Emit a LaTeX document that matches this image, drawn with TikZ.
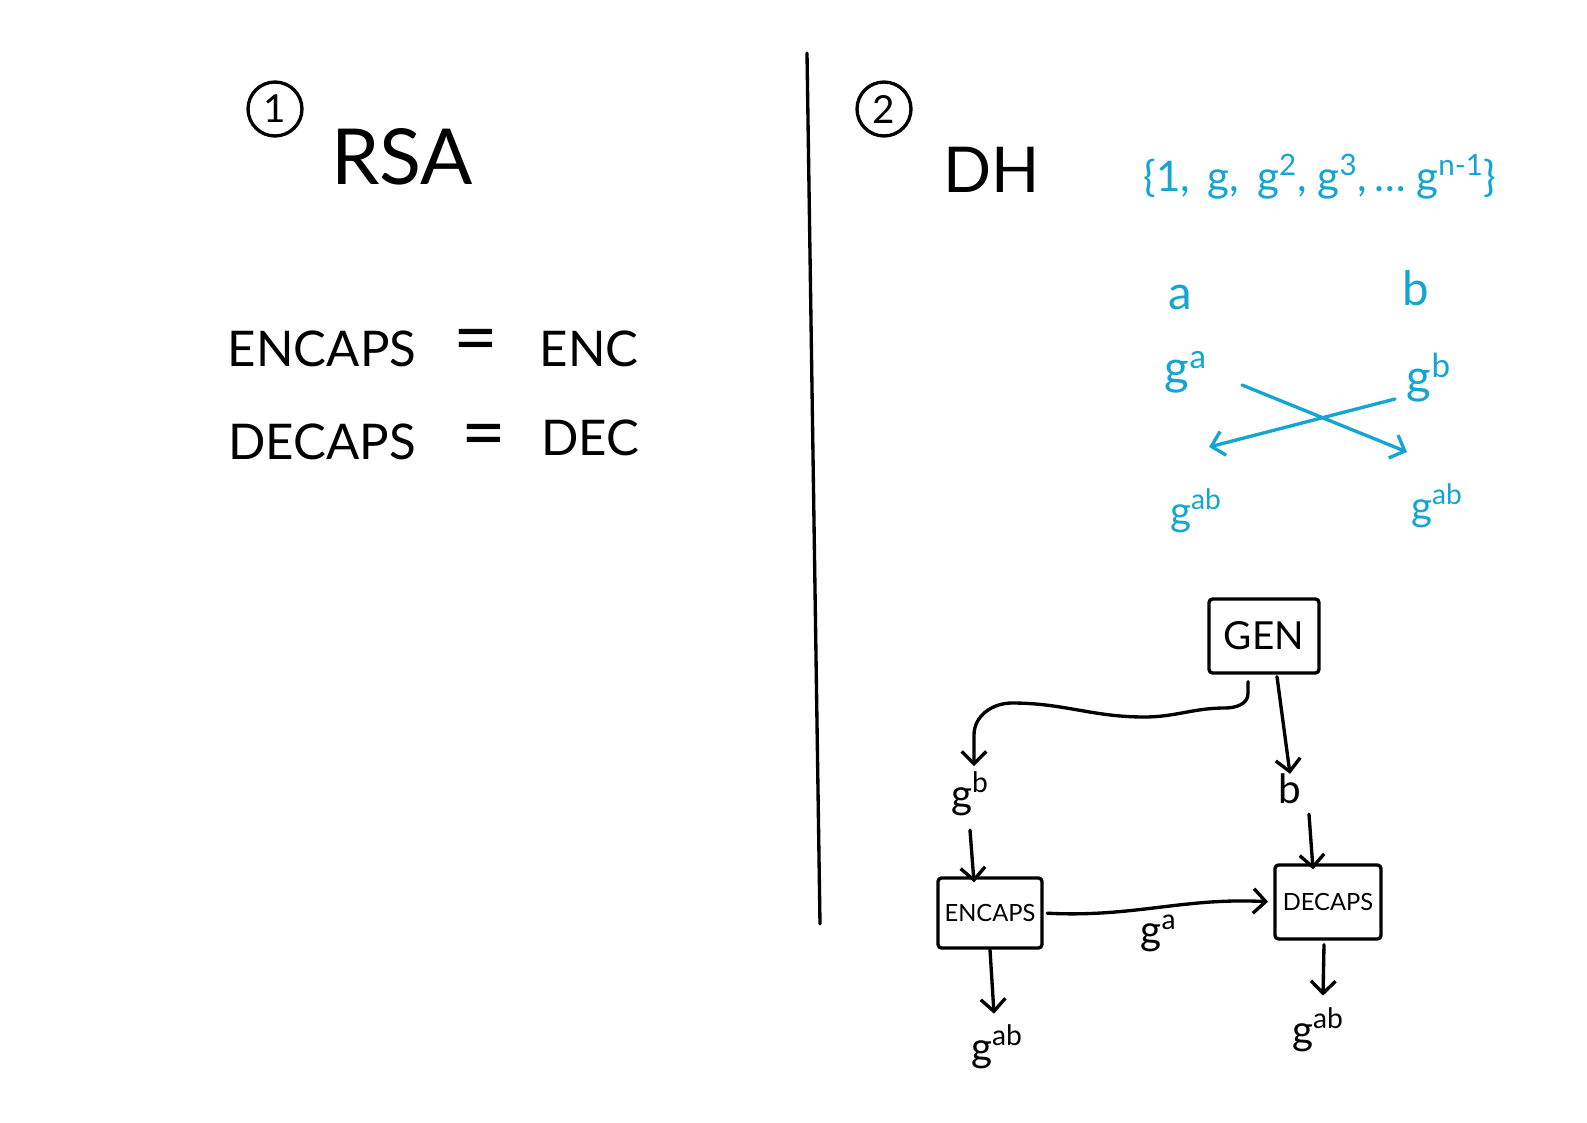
\documentclass[tikz,border=0pt]{standalone}
\usepackage{fontspec}
\setmainfont{Lato}
\usetikzlibrary{arrows.meta, positioning, calc}
\definecolor{dhblue}{RGB}{20,165,210}

\begin{document}
\begin{tikzpicture}[x=0.02cm, y=0.02cm,
    hand/.style={line width=1.9pt, line cap=round, line join=round},
    arr/.style={hand, -{Straight Barb[length=7pt,width=14pt]}},
    blk/.style={draw, hand, rounded corners=2pt, inner sep=0pt, font=\fontsize{13.5}{16}\selectfont},
    lbl/.style={inner sep=1pt, font=\fontsize{23}{26}\selectfont},
    blue/.style={lbl, dhblue, font=\fontsize{27}{30}\selectfont},
    big/.style={font=\fontsize{28}{32}\selectfont},
    num/.style={circle, draw, hand, minimum size=10.8mm, inner sep=0pt, font=\fontsize{22}{24}\selectfont}]
  \useasboundingbox (0,-1123) rectangle (1587,0);

  % RSA side
  \node[num] (n1) at (275,-109) {1};
  \node[font=\fontsize{44}{48}\selectfont] (rsa) at (402,-157) {RSA};
  \node[big] (encl) at (322,-349) {ENCAPS};
  \node[big, font=\fontsize{44}{48}\selectfont] (eq1) at (476,-347) {=};
  \node[big] (enc) at (589,-349) {ENC};
  \node[big] (decl) at (322,-442) {DECAPS};
  \node[big, font=\fontsize{44}{48}\selectfont] (eq2) at (484,-442) {=};
  \node[big] (dec) at (590,-438) {DEC};

  % divider
  \draw[hand] (807,-53) -- (820,-924);

  % DH side
  \node[num] (n2) at (884,-109) {2};
  \node[font=\fontsize{36}{40}\selectfont] (dh) at (992,-170) {DH};
  \node[lbl, dhblue, font=\fontsize{24}{28}\selectfont] (grp) at (1320,-177)
    {\{1,\, g,\, g\textsuperscript{2}, g\textsuperscript{3},\,… g\textsuperscript{n-1}\}};

  % key exchange
  \node[blue] (a) at (1180,-297) {a};
  \node[blue] (b) at (1416,-288) {b};
  \node[blue] (ga) at (1186,-372) {g\textsuperscript{a}};
  \node[blue] (gb) at (1429,-378) {g\textsuperscript{b}};
  \node[blue, font=\fontsize{23}{26}\selectfont] (gabl) at (1196,-511) {g\textsuperscript{ab}};
  \node[blue, font=\fontsize{23}{26}\selectfont] (gabr) at (1437,-506) {g\textsuperscript{ab}};
  \coordinate (sendA) at (1242,-385);
  \coordinate (recvB) at (1407,-452);
  \coordinate (sendB) at (1395,-399);
  \coordinate (recvA) at (1209,-447);
  \draw[arr, dhblue] (sendA) -- (recvB);
  \draw[arr, dhblue] (sendB) -- (recvA);

  % KEM flow
  \node[blk, minimum width=22mm, minimum height=14.8mm, font=\fontsize{22}{24}\selectfont] (gen) at (1264,-636) {GEN};
  \node[lbl] (gbk) at (970,-794) {g\textsuperscript{b}};
  \node[lbl] (bk) at (1290,-789) {b};
  \node[blk, minimum width=20.8mm, minimum height=14mm] (encaps) at (990,-913) {ENCAPS};
  \node[blk, minimum width=21.2mm, minimum height=14.8mm] (decaps) at (1328,-902) {DECAPS};
  \node[lbl] (gabe) at (997,-1047) {g\textsuperscript{ab}};
  \node[lbl] (gabd) at (1318,-1030) {g\textsuperscript{ab}};

  \draw[arr] ($(gen.south)+(-16,-7)$) -- ++(0,-12) to[out=-90,in=0] (1225,-708)
    to[out=180,in=0] (1144,-717) to[out=180,in=0] (1012,-703)
    to[out=180,in=90] (974,-735) -- (974,-766);
  \draw[arr] ($(gen.south)+(13,-2)$) -- ($(bk.north)+(0,-2)$);
  \draw[arr] ($(gbk.south)+(0,-12)$) -- ($(gbk.south |- encaps.north)+(4,-6)$);
  \draw[arr] ($(bk.south)+(19,-8)$) -- ($(decaps.north)+(-15,-6)$);
  \draw[arr, shorten <=2pt, shorten >=3pt] (encaps.east) to[out=-3,in=177]
    node[lbl, below=2pt] (gat) {g\textsuperscript{a}} (decaps.west);
  \draw[arr] (encaps.south) -- ($(encaps.south)+(4,-64)$);
  \draw[arr] ($(decaps.south)+(-4,-4)$) -- ($(decaps.south)+(-5,-55)$);
\end{tikzpicture}
\end{document}
